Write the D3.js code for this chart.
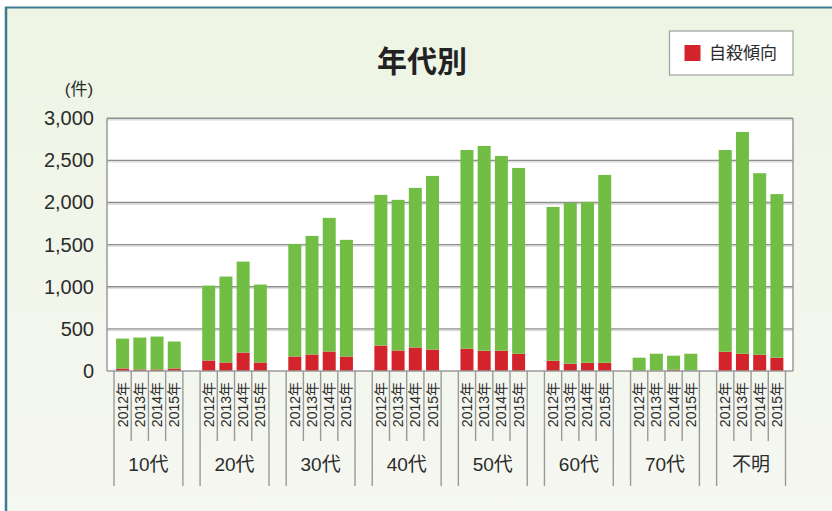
<!DOCTYPE html>
<html><head><meta charset="utf-8">
<script src="https://cdn.jsdelivr.net/npm/d3@7"></script>
<style>
html,body{margin:0;padding:0;background:#fff;}
svg{display:block;font-family:"Liberation Sans","Noto Sans CJK JP",sans-serif;}
</style></head>
<body>
<svg id="chart" width="832" height="511"></svg>
<script>
const groups = ["10代","20代","30代","40代","50代","60代","70代","不明"];
const years = ["2012年","2013年","2014年","2015年"];
// 自殺傾向 (red, bottom segment)
const suicide = [
  [30, 18, 18, 30],
  [125, 101, 219, 101],
  [172, 196, 231, 172],
  [302, 243, 279, 255],
  [265, 241, 241, 205],
  [122, 87, 98, 98],
  [5, 5, 16, 5],
  [229, 205, 193, 158]
];
// その他 (green, upper segment)
const other = [
  [355, 379, 391, 320],
  [889, 1020, 1080, 925],
  [1337, 1408, 1587, 1385],
  [1789, 1789, 1895, 2061],
  [2359, 2431, 2312, 2206],
  [1826, 1909, 1910, 2230],
  [153, 200, 166, 200],
  [2395, 2633, 2155, 1942]
];
const yTicks = [0, 500, 1000, 1500, 2000, 2500, 3000];
const title = "年代別";
const legendLabel = "自殺傾向";
const unitLabel = "(件)";

const W = 832, H = 511;
const svg = d3.select("#chart");

// background
const defs = svg.append("defs");
const lg = defs.append("linearGradient").attr("id","bg").attr("x1",0).attr("y1",0).attr("x2",0).attr("y2",1);
lg.append("stop").attr("offset","0%").attr("stop-color","#eef5e4");
lg.append("stop").attr("offset","100%").attr("stop-color","#f5f7f1");
svg.append("rect").attr("x",0).attr("y",0).attr("width",W).attr("height",H).attr("fill","#ffffff");
svg.append("rect").attr("x",6).attr("y",8).attr("width",W-6).attr("height",H-8).attr("fill","url(#bg)");
svg.append("line").attr("x1",6).attr("x2",6).attr("y1",7).attr("y2",H).attr("stroke","#3e7b93").attr("stroke-width",2.5);
svg.append("line").attr("x1",5).attr("x2",W).attr("y1",7.5).attr("y2",7.5).attr("stroke","#3e7b93").attr("stroke-width",2);

const plotL = 107, plotR = 793, plotT = 118.3, plotB = 371;
const innerL = 114, innerR = 785.5;
const slot = (innerR - innerL) / (groups.length * 5 - 1);

const y = d3.scaleLinear().domain([0, 3000]).range([plotB, plotT]);
const x0 = d3.scaleBand().domain(groups).range([innerL, innerR + slot]).paddingInner(0).paddingOuter(0);
const x1 = d3.scaleBand().domain(years).range([0, 4 * slot]).paddingInner(0.245).paddingOuter(0.1225);

// plot area
svg.append("rect").attr("x",plotL).attr("y",plotT).attr("width",plotR-plotL).attr("height",plotB-plotT)
  .attr("fill","#ffffff");

// grid lines
const grid = svg.append("g");
yTicks.filter(t => t > 0).forEach(t => {
  grid.append("line").attr("x1",plotL).attr("x2",plotR).attr("y1",y(t)+1.5).attr("y2",y(t)+1.5)
    .attr("stroke","#d6d6d6").attr("stroke-width",1.2);
  grid.append("line").attr("x1",plotL).attr("x2",plotR).attr("y1",y(t)).attr("y2",y(t))
    .attr("stroke","#8e8e8e").attr("stroke-width",1.4);
});
svg.append("line").attr("x1",plotL).attr("x2",plotL).attr("y1",plotT).attr("y2",plotB).attr("stroke","#9a9a9a").attr("stroke-width",1.5);
svg.append("line").attr("x1",plotR).attr("x2",plotR).attr("y1",plotT).attr("y2",plotB).attr("stroke","#9a9a9a").attr("stroke-width",1.5);

// stacked data
const rows = [];
groups.forEach((g, gi) => years.forEach((yr, yi) => {
  rows.push({group: g, year: yr, suicide: suicide[gi][yi], other: other[gi][yi]});
}));
const series = d3.stack().keys(["suicide","other"])(rows);
const colors = {suicide: "#d3242b", other: "#72be45"};

svg.append("g").selectAll("g").data(series).join("g")
  .attr("fill", d => colors[d.key])
  .selectAll("rect").data(d => d).join("rect")
  .attr("x", d => x0(d.data.group) + x1(d.data.year))
  .attr("width", x1.bandwidth())
  .attr("y", d => y(d[1]))
  .attr("height", d => y(d[0]) - y(d[1]));

// bottom axis line
svg.append("line").attr("x1",plotL).attr("x2",plotR).attr("y1",plotB).attr("y2",plotB).attr("stroke","#9a9a9a").attr("stroke-width",1.5);

// y axis labels
const yAxis = d3.axisLeft(y).tickValues(yTicks).tickFormat(d3.format(",")).tickSize(0).tickPadding(13);
const ya = svg.append("g").attr("transform",`translate(${plotL},0)`).call(yAxis);
ya.select(".domain").remove();
ya.selectAll("text").attr("font-size",20).attr("fill","#2b2b2b").attr("font-family","Liberation Sans, Arial, sans-serif");

// x axis: separators and labels
const xa = svg.append("g");
groups.forEach(g => {
  const gx = x0(g);
  for (let j = 0; j <= 4; j++) {
    const lx = gx + j * slot;
    const long = (j === 0 || j === 4);
    xa.append("line").attr("x1",lx).attr("x2",lx).attr("y1",plotB).attr("y2", long ? 486 : 441)
      .attr("stroke","#9a9a9a").attr("stroke-width",1.4);
  }
  years.forEach(yr => {
    const cx = gx + x1(yr) + x1.bandwidth() / 2;
    xa.append("text").text(yr)
      .attr("transform",`translate(${cx},382) rotate(-90)`)
      .attr("text-anchor","end").attr("dominant-baseline","central")
      .attr("font-size",14).attr("fill","#2b2b2b");
  });
  xa.append("text").text(g)
    .attr("x", gx + 2 * slot).attr("y", 464)
    .attr("text-anchor","middle").attr("dominant-baseline","central")
    .attr("font-size",19).attr("fill","#2b2b2b");
});

// title
svg.append("text").text(title).attr("x",422).attr("y",61).attr("text-anchor","middle")
  .attr("dominant-baseline","central").attr("font-size",30).attr("font-weight","bold").attr("fill","#222");

// unit
svg.append("text").text(unitLabel).attr("x",79).attr("y",89).attr("text-anchor","middle")
  .attr("dominant-baseline","central").attr("font-size",17).attr("fill","#2b2b2b");

// legend
const leg = svg.append("g");
leg.append("rect").attr("x",669.5).attr("y",31).attr("width",123.5).attr("height",44)
  .attr("fill","#ffffff").attr("stroke","#a0a0a0").attr("stroke-width",1.2);
leg.append("rect").attr("x",684.5).attr("y",45).attr("width",16).attr("height",16).attr("fill",colors.suicide);
leg.append("text").text(legendLabel).attr("x",709).attr("y",53.5).attr("dominant-baseline","central")
  .attr("font-size",17).attr("fill","#2b2b2b");
</script>
</body></html>
